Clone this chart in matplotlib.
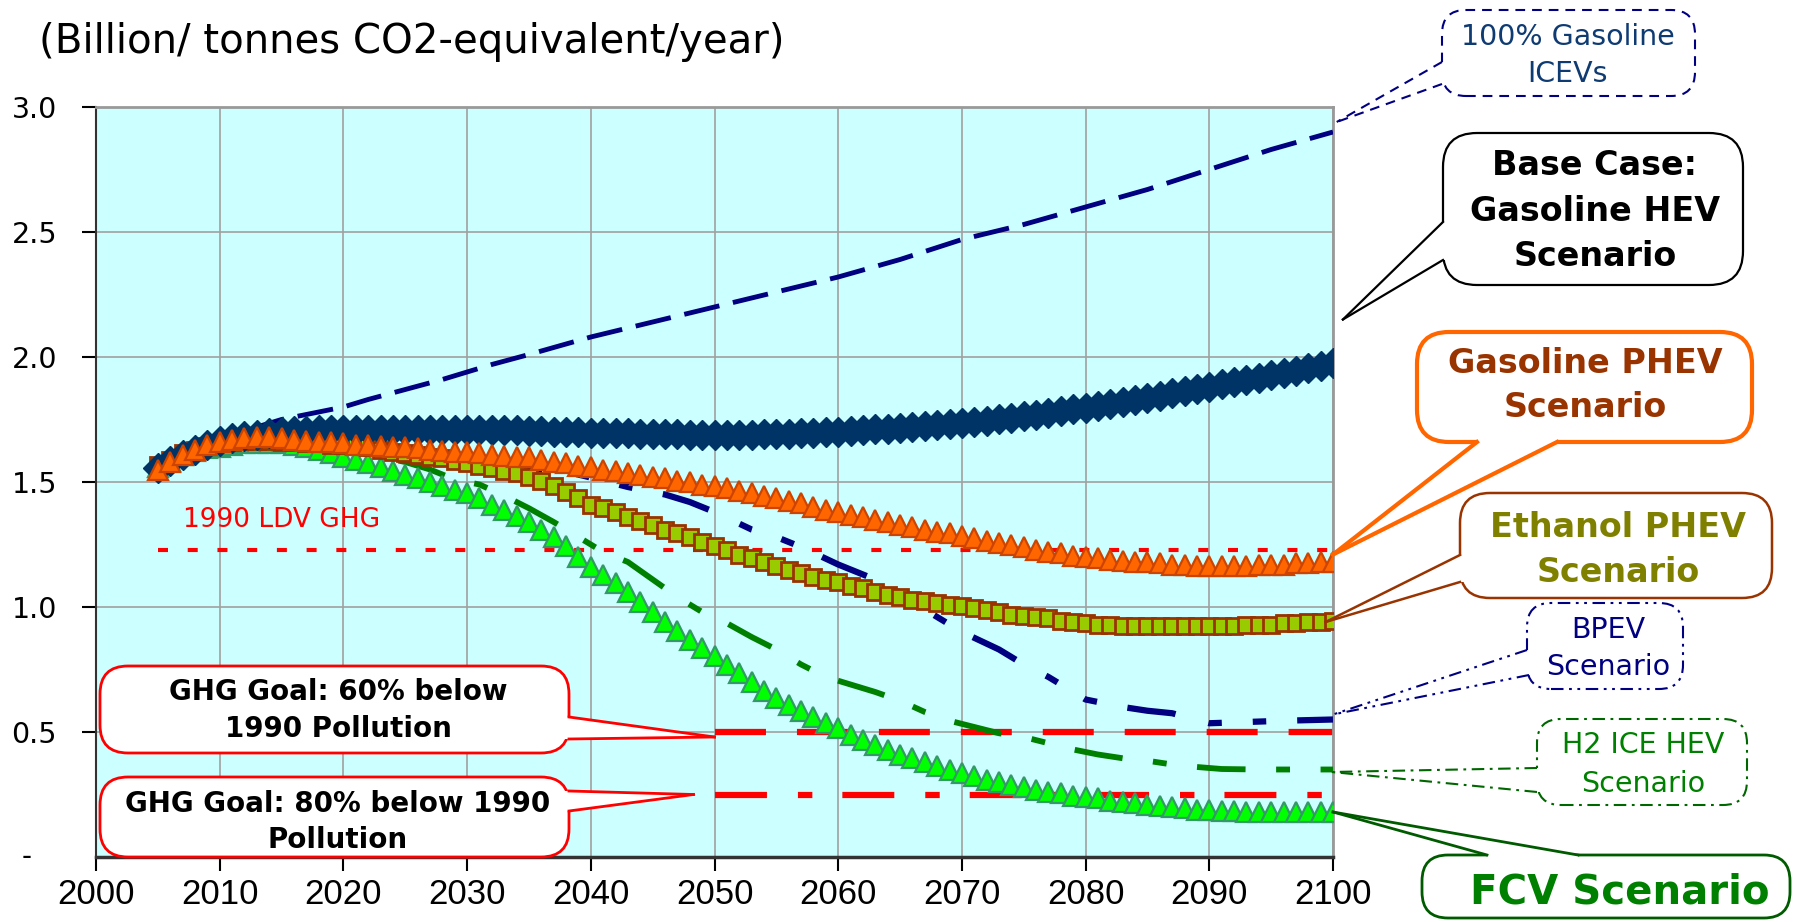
import matplotlib
matplotlib.use("Agg")
import matplotlib.pyplot as plt
from matplotlib.patches import FancyBboxPatch, Polygon
from matplotlib.lines import Line2D
from matplotlib.transforms import IdentityTransform

plt.rcParams['font.family'] = ['DejaVu Sans']
plt.rcParams['lines.scale_dashes'] = False

# ---- data (billion tonnes CO2-eq / year) ----
years = list(range(2005, 2101))

hev_base = [1.555, 1.585, 1.61, 1.63, 1.65, 1.665, 1.675, 1.685, 1.69, 1.695,
            1.70, 1.705, 1.705, 1.71, 1.71, 1.71, 1.71, 1.71, 1.71, 1.71,
            1.71, 1.71, 1.71, 1.71, 1.71, 1.71, 1.71, 1.71, 1.71, 1.708,
            1.706, 1.704, 1.702, 1.70, 1.70, 1.698, 1.697, 1.696, 1.695, 1.694,
            1.693, 1.692, 1.691, 1.69, 1.69, 1.69, 1.69, 1.69, 1.69, 1.691,
            1.692, 1.694, 1.696, 1.698, 1.70, 1.702, 1.705, 1.708, 1.711, 1.714,
            1.717, 1.72, 1.724, 1.728, 1.732, 1.736, 1.741, 1.746, 1.752, 1.758,
            1.764, 1.77, 1.777, 1.784, 1.791, 1.798, 1.806, 1.814, 1.822, 1.83,
            1.838, 1.846, 1.855, 1.864, 1.873, 1.882, 1.891, 1.90, 1.909, 1.918,
            1.927, 1.936, 1.945, 1.955, 1.965, 1.975]

gas_phev = [1.55, 1.58, 1.61, 1.63, 1.65, 1.66, 1.67, 1.675, 1.68, 1.68,
            1.675, 1.67, 1.665, 1.66, 1.66, 1.655, 1.65, 1.65, 1.645, 1.64,
            1.64, 1.635, 1.63, 1.625, 1.62, 1.62, 1.615, 1.61, 1.605, 1.60,
            1.60, 1.59, 1.58, 1.575, 1.565, 1.56, 1.55, 1.545, 1.535, 1.53,
            1.52, 1.515, 1.505, 1.50, 1.49, 1.485, 1.475, 1.465, 1.455, 1.445,
            1.435, 1.425, 1.415, 1.40, 1.39, 1.38, 1.37, 1.36, 1.35, 1.34,
            1.33, 1.32, 1.31, 1.30, 1.295, 1.285, 1.275, 1.265, 1.255, 1.25,
            1.24, 1.23, 1.22, 1.215, 1.205, 1.20, 1.195, 1.19, 1.185, 1.18,
            1.18, 1.175, 1.17, 1.17, 1.165, 1.165, 1.165, 1.165, 1.165, 1.17,
            1.17, 1.17, 1.175, 1.175, 1.18, 1.18]

eth_phev = [1.57, 1.59, 1.615, 1.63, 1.645, 1.655, 1.66, 1.665, 1.665, 1.665,
            1.66, 1.66, 1.655, 1.655, 1.65, 1.65, 1.645, 1.64, 1.63, 1.62,
            1.615, 1.61, 1.60, 1.595, 1.585, 1.575, 1.565, 1.555, 1.545, 1.535,
            1.52, 1.505, 1.485, 1.46, 1.435, 1.41, 1.395, 1.38, 1.36, 1.345,
            1.33, 1.31, 1.295, 1.28, 1.26, 1.245, 1.23, 1.21, 1.195, 1.18,
            1.165, 1.15, 1.135, 1.12, 1.11, 1.10, 1.085, 1.075, 1.06, 1.05,
            1.04, 1.03, 1.025, 1.015, 1.01, 1.005, 0.995, 0.99, 0.98, 0.97,
            0.965, 0.96, 0.955, 0.945, 0.94, 0.935, 0.93, 0.93, 0.925, 0.925,
            0.925, 0.925, 0.925, 0.925, 0.925, 0.925, 0.925, 0.925, 0.93, 0.93,
            0.93, 0.935, 0.935, 0.94, 0.94, 0.945]

fcv = [1.56, 1.585, 1.61, 1.625, 1.635, 1.64, 1.65, 1.655, 1.655, 1.655,
       1.655, 1.65, 1.64, 1.63, 1.615, 1.60, 1.59, 1.575, 1.56, 1.545,
       1.53, 1.515, 1.50, 1.485, 1.47, 1.455, 1.435, 1.41, 1.39, 1.365,
       1.34, 1.31, 1.28, 1.245, 1.20, 1.16, 1.13, 1.095, 1.06, 1.02,
       0.98, 0.94, 0.905, 0.87, 0.835, 0.805, 0.77, 0.735, 0.70, 0.665,
       0.635, 0.61, 0.585, 0.56, 0.535, 0.515, 0.49, 0.47, 0.45, 0.43,
       0.41, 0.395, 0.38, 0.365, 0.35, 0.335, 0.325, 0.31, 0.30, 0.29,
       0.28, 0.27, 0.26, 0.255, 0.245, 0.24, 0.235, 0.225, 0.22, 0.215,
       0.21, 0.205, 0.20, 0.195, 0.19, 0.19, 0.185, 0.185, 0.18, 0.18,
       0.18, 0.18, 0.18, 0.18, 0.18, 0.18]

icev_years = [2005, 2008, 2010, 2013, 2015, 2018, 2020, 2022, 2025, 2028, 2030, 2032,
              2035, 2040, 2045, 2050, 2055, 2060, 2065, 2070, 2075, 2080, 2085, 2090,
              2095, 2100]
icev = [1.55, 1.62, 1.66, 1.72, 1.75, 1.78, 1.80, 1.83, 1.87, 1.91, 1.94, 1.97,
        2.01, 2.08, 2.14, 2.20, 2.26, 2.32, 2.39, 2.47, 2.53, 2.60, 2.67, 2.75,
        2.83, 2.90]

bpev_years = [2005, 2010, 2015, 2020, 2025, 2030, 2034, 2036, 2039, 2041, 2043, 2046,
              2048, 2050, 2053, 2055, 2057, 2060, 2062, 2064, 2067, 2070, 2073, 2075,
              2077, 2080, 2083, 2085, 2087, 2090, 2093, 2096, 2100]
bpev = [1.55, 1.65, 1.67, 1.66, 1.63, 1.59, 1.565, 1.55, 1.53, 1.505, 1.48, 1.45,
        1.42, 1.38, 1.31, 1.28, 1.24, 1.17, 1.13, 1.09, 0.99, 0.90, 0.83, 0.77,
        0.72, 0.63, 0.60, 0.585, 0.575, 0.535, 0.54, 0.545, 0.55]

h2_years = [2005, 2010, 2015, 2020, 2025, 2027, 2029, 2031, 2033, 2035, 2037, 2039,
            2041, 2043, 2045, 2047, 2049, 2051, 2053, 2055, 2057, 2059, 2061, 2063,
            2065, 2067, 2069, 2071, 2073, 2075, 2077, 2079, 2081, 2083, 2085, 2087,
            2089, 2091, 2094, 2097, 2100]
h2_ice = [1.55, 1.65, 1.66, 1.63, 1.58, 1.55, 1.51, 1.49, 1.445, 1.395, 1.34, 1.28,
          1.22, 1.18, 1.11, 1.04, 0.98, 0.935, 0.88, 0.83, 0.77, 0.72, 0.69, 0.66,
          0.625, 0.58, 0.545, 0.52, 0.495, 0.48, 0.455, 0.43, 0.41, 0.395, 0.385, 0.37,
          0.36, 0.352, 0.35, 0.35, 0.35]

ghg_1990 = 1.23
goal_60 = 0.50
goal_80 = 0.25
goal_years = [2050, 2100]

x_ticks = [2000, 2010, 2020, 2030, 2040, 2050, 2060, 2070, 2080, 2090, 2100]
y_ticks = [0.5, 1.0, 1.5, 2.0, 2.5, 3.0]

# ---- figure ----
W, H = 1797, 922
ID = IdentityTransform()
fig = plt.figure(figsize=(W / 100, H / 100), dpi=100)
ax = fig.add_axes([96 / W, 1 - 857 / H, (1333 - 96) / W, (857 - 107) / H])
ax.set_facecolor('#CCFFFF')
ax.set_xlim(2000, 2100)
ax.set_ylim(0, 3)
ax.grid(True, color='#A0A0A0', lw=1.2, zorder=0)
ax.set_axisbelow(True)

ax.set_xticks(x_ticks)
ax.set_xticklabels([str(t) for t in x_ticks], family='Liberation Sans', fontsize=25)
ax.set_yticks(y_ticks)
ax.set_yticklabels([f"{v:.1f}" for v in y_ticks], fontsize=20.5)
ax.tick_params(axis='x', direction='out', length=10, width=1.5, pad=5)
ax.tick_params(axis='y', direction='out', length=10, width=1.5, pad=18)
ax.text(-0.056, 0, '-', transform=ax.get_yaxis_transform(), ha='center', va='center',
        fontsize=20)
for side in ['top', 'right']:
    ax.spines[side].set_color('#999999')
    ax.spines[side].set_linewidth(2)
ax.spines['left'].set_color('#333333')
ax.spines['left'].set_linewidth(1.5)
ax.spines['bottom'].set_color('#333333')
ax.spines['bottom'].set_linewidth(2.5)

# reference lines
ax.plot([2005, 2100], [ghg_1990, ghg_1990], color='#FF0000', lw=3,
        ls=(0, (7.2, 14.2)), zorder=2, dash_capstyle='butt')
ax.plot(goal_years, [goal_60, goal_60], color='#FF0000', lw=4.5,
        ls=(0, (36.7, 22.3)), zorder=2, dash_capstyle='butt')
ax.plot(goal_years, [goal_80, goal_80], color='#FF0000', lw=4.5,
        ls=(0, (37.4, 22.3, 10.4, 21.6)), zorder=2, dash_capstyle='butt')

# scenario lines
ax.plot(icev_years, icev, color='#000080', lw=3.5, ls=(0, (26, 10)), zorder=3,
        dash_capstyle='butt')
ax.plot(bpev_years, bpev, color='#000080', lw=4.5,
        ls=(0, (35, 24.5, 9.7, 22.3, 9.7, 22.3)), zorder=3, dash_capstyle='butt')
ax.plot(h2_years, h2_ice, color='#008000', lw=4.2,
        ls=(0, (35, 22, 10, 22)), zorder=3, dash_capstyle='butt')

# marker series
ax.plot(years, fcv, ls='none', marker='^', ms=14, mfc='#00FF00', mec='#339966',
        mew=1.6, zorder=4)
ax.plot(years, eth_phev, ls='none', marker='s', ms=11, mfc='#99CC00', mec='#993300',
        mew=2, zorder=5)
ax.plot(years, hev_base, ls='none', marker='D', ms=15, mfc='#003366', mec='#003366',
        mew=1, zorder=6)
ax.plot(years, gas_phev, ls='none', marker='^', ms=14.5, mfc='#FF6600', mec='#CC4400',
        mew=1.6, zorder=7)


def label(x, y, s, size, ha='center', family='DejaVu Sans', cap=0.729, **kw):
    # x, y in pixels from the top-left; y is the middle of the capital letters
    em = size * 100 / 72
    fig.text(x, H - (y + cap * em / 2), s, transform=ID, ha=ha, va='baseline',
             fontsize=size, family=family, zorder=30, **kw)


def callout(box, base, inward, tip, edge, lw, style='solid', r=28):
    x0, y0, x1, y1 = box
    body = FancyBboxPatch((x0, H - y1), x1 - x0, y1 - y0,
                          boxstyle=f"round,pad=0,rounding_size={r}", transform=ID,
                          fc='white', ec=edge, lw=lw, ls=style, zorder=20)
    fig.add_artist(body)
    tx, ty = ax.transData.transform(tip)
    (ax1, ay1), (ax2, ay2) = [(bx, H - by) for bx, by in base]
    dx, dy = inward
    fig.add_artist(Polygon([(ax1 + dx, ay1 + dy), (ax1, ay1), (tx, ty), (ax2, ay2),
                            (ax2 + dx, ay2 + dy)], closed=True, transform=ID,
                           fc='white', ec='none', zorder=21))
    for bx, by in [(ax1, ay1), (ax2, ay2)]:
        fig.add_artist(Line2D([bx, tx], [by, ty], transform=ID, color=edge, lw=lw,
                              ls=style, zorder=22))


label(39, 38, '(Billion/ tonnes CO2-equivalent/year)', 29, ha='left')
label(183, 517, '1990 LDV GHG', 19, ha='left', color='#FF0000')

dash_dot = (0, (9, 4, 2, 4))
dash_dot_dot = (0, (9, 4, 2, 4, 2, 4))

callout((1442, 10, 1695, 96), [(1442, 62), (1442, 84)], (4, 0), (2100.3, 2.94),
        '#000080', 1.5, (0, (7, 5)), r=24)
label(1568, 35, '100% Gasoline', 20.5, color='#0F3B73')
label(1568, 72, 'ICEVs', 20.5, color='#0F3B73')

callout((1443, 133, 1743, 285), [(1443, 222), (1443, 260)], (4, 0), (2100.8, 2.15),
        'black', 1.6, r=34)
for text, yy in [('Base Case:', 163), ('Gasoline HEV', 209), ('Scenario', 254)]:
    label(1595, yy, text, 24, weight='bold')

callout((1417, 332, 1752, 442), [(1477, 442), (1557, 442)], (0, 5), (2100, 1.21),
        '#FF6600', 3, r=32)
for text, yy in [('Gasoline PHEV', 361), ('Scenario', 405)]:
    label(1585, yy, text, 24, weight='bold', color='#993300')

callout((1460, 493, 1772, 598), [(1460, 555), (1460, 582)], (4, 0), (2099.4, 0.94),
        '#993300', 1.8, r=30)
for text, yy in [('Ethanol PHEV', 525), ('Scenario', 570)]:
    label(1618, yy, text, 24, weight='bold', color='#808000')

callout((1527, 603, 1683, 689), [(1527, 650), (1529, 675)], (4, 0), (2100, 0.57),
        '#000080', 1.5, dash_dot_dot, r=24)
for text, yy in [('BPEV', 628), ('Scenario', 665)]:
    label(1608, yy, text, 20.5, color='#000080')

callout((1537, 719, 1747, 805), [(1537, 768), (1537, 792)], (4, 0), (2099.9, 0.34),
        '#006600', 1.5, dash_dot, r=24)
for text, yy in [('H2 ICE HEV', 743), ('Scenario', 782)]:
    label(1643, yy, text, 20.5, color='#008000')

callout((1422, 855, 1790, 918), [(1487, 855), (1578, 855)], (0, -4), (2100, 0.18),
        '#005A00', 2, r=26)
label(1620, 889, 'FCV Scenario', 29, weight='bold', color='#008000')

callout((100, 666, 569, 753), [(569, 717), (569, 739)], (-4, 0), (2050, 0.48),
        '#FF0000', 2, r=28)
for text, yy in [('GHG Goal: 60% below', 690), ('1990 Pollution', 727)]:
    label(338, yy, text, 20, weight='bold')

callout((100, 777, 569, 857), [(569, 791), (569, 811)], (-4, 0), (2048.3, 0.25),
        '#FF0000', 2, r=28)
for text, yy in [('GHG Goal: 80% below 1990', 802), ('Pollution', 838)]:
    label(338, yy, text, 20, weight='bold')

fig.savefig('out.png', dpi=100)
